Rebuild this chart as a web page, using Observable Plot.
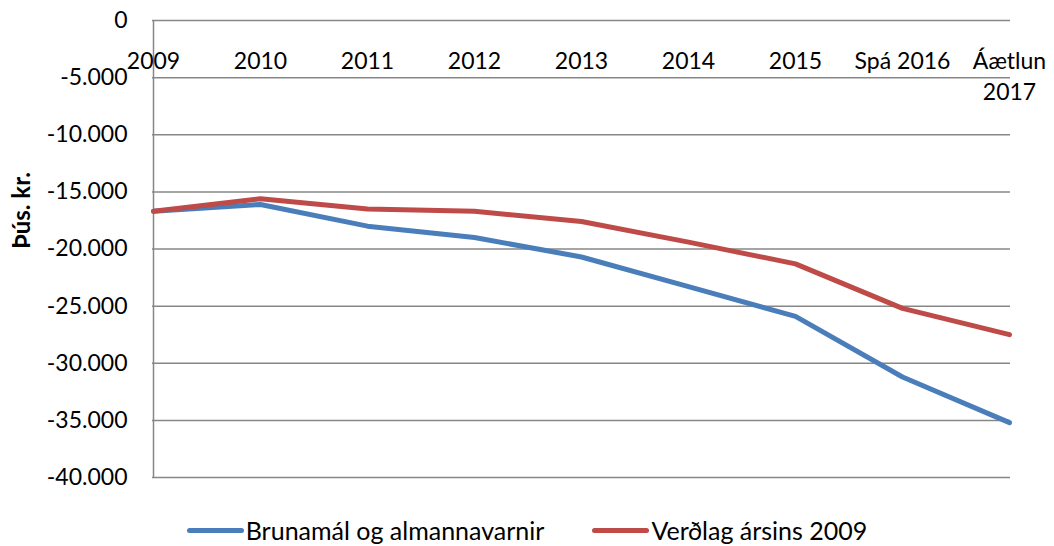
<!DOCTYPE html>
<html>
<head>
<meta charset="utf-8">
<script src="https://cdn.jsdelivr.net/npm/d3@7"></script>
<script src="https://cdn.jsdelivr.net/npm/@observablehq/plot@0.6"></script>
<style>
  html, body { margin: 0; padding: 0; background: #fff; }
  body { width: 1054px; height: 546px; overflow: hidden; font-family: Lato, "Open Sans", sans-serif; }
  #chart svg { display: block; }
  #legend { display: flex; justify-content: center; align-items: center; height: 46px; font-size: 25px; color: #000; padding-top: 14px; box-sizing: border-box; }
  .item { display: flex; align-items: center; margin: 0 24px; }
  .sw { width: 57px; height: 5px; border-radius: 3px; margin-right: 2px; }
</style>
</head>
<body>
<div id="chart"></div>
<div id="legend"></div>
<script>
const years = ["2009", "2010", "2011", "2012", "2013", "2014", "2015", "Spá 2016", "Áætlun 2017"];
const xLabels = ["2009", "2010", "2011", "2012", "2013", "2014", "2015", "Spá 2016", "Áætlun\n2017"];
const brunamal = [-16700, -16100, -18000, -19000, -20700, -23300, -25900, -31200, -35200];
const verdlag = [-16700, -15600, -16500, -16700, -17600, -19400, -21300, -25200, -27500];
const yTicks = [0, -5000, -10000, -15000, -20000, -25000, -30000, -35000, -40000];
const seriesNames = ["Brunamál og almannavarnir", "Verðlag ársins 2009"];
const seriesColors = ["#4A7EBB", "#BE4B48"];
const yTitle = "Þús. kr.";

const rows = [];
years.forEach((y, i) => {
  rows.push({ year: y, value: brunamal[i], series: seriesNames[0] });
  rows.push({ year: y, value: verdlag[i], series: seriesNames[1] });
});
const labelRows = years.map((y, i) => ({ year: y, label: xLabels[i] }));

const locale = d3.formatLocale({ decimal: ",", thousands: ".", grouping: [3], currency: ["", ""], minus: "-" });
const fmt = locale.format(",");

const chart = Plot.plot({
  width: 1054,
  height: 500,
  marginLeft: 152,
  marginRight: 44,
  marginTop: 20,
  marginBottom: 23,
  style: { fontFamily: "Lato, 'Open Sans', sans-serif", background: "#fff", color: "#000" },
  x: { type: "point", domain: years, padding: 0, axis: null },
  y: { domain: [-40000, 0], axis: null },
  color: { domain: seriesNames, range: seriesColors },
  marks: [
    Plot.gridY(yTicks, { stroke: "#878787", strokeOpacity: 1, strokeWidth: 1.5 }),
    Plot.ruleX([years[0]], { stroke: "#878787", strokeWidth: 1.5 }),
    Plot.axisY(yTicks, { tickSize: 0, tickPadding: 25, tickFormat: fmt, fontSize: 23, fill: "#000", label: null }),
    Plot.text(labelRows, { x: "year", text: "label", frameAnchor: "top", lineAnchor: "top", dy: 26, lineHeight: 1.35, fontSize: 23, fill: "#000" }),
    Plot.line(rows, { x: "year", y: "value", z: "series", stroke: "series", strokeWidth: 5, strokeLinejoin: "round" }),
    Plot.text([yTitle], { frameAnchor: "left", rotate: -90, dx: -130, fontSize: 24, fontWeight: "bold", fill: "#000" })
  ]
});
document.getElementById("chart").appendChild(chart);

const legend = document.getElementById("legend");
seriesNames.forEach((name, i) => {
  const item = document.createElement("div");
  item.className = "item";
  const sw = document.createElement("div");
  sw.className = "sw";
  sw.style.background = seriesColors[i];
  const t = document.createElement("span");
  t.textContent = name;
  item.appendChild(sw);
  item.appendChild(t);
  legend.appendChild(item);
});
</script>
</body>
</html>
